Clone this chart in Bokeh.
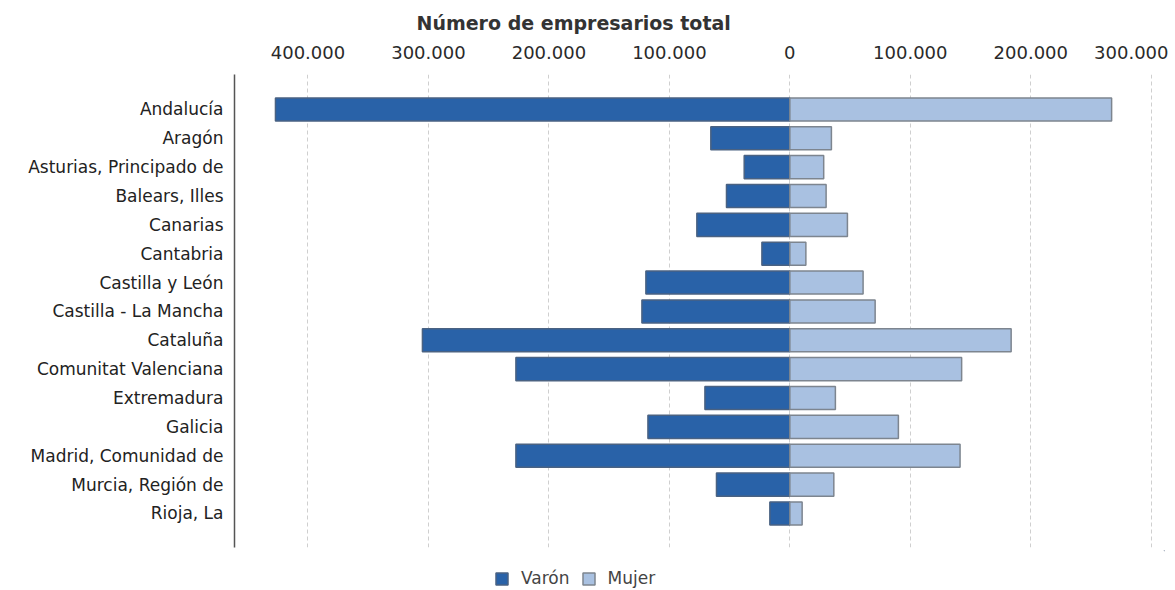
from bokeh.plotting import figure
from bokeh.layouts import column
from bokeh.models import (ColumnDataSource, Range1d, FixedTicker, CustomJSTickFormatter,
                          Legend, LegendItem)
from bokeh.embed import file_html
from bokeh.resources import INLINE

categories = ["Andalucía", "Aragón", "Asturias, Principado de", "Balears, Illes",
              "Canarias", "Cantabria", "Castilla y León", "Castilla - La Mancha",
              "Cataluña", "Comunitat Valenciana", "Extremadura", "Galicia",
              "Madrid, Comunidad de", "Murcia, Región de", "Rioja, La"]
varon = [427000, 65600, 37900, 52600, 77200, 23200, 119500, 122800,
         305000, 227400, 70500, 117800, 227400, 60900, 16600]
mujer = [267100, 34500, 28100, 30100, 47800, 13300, 60800, 70800,
         183700, 142600, 37800, 90100, 141300, 36500, 10200]
x_ticks = [-400000, -300000, -200000, -100000, 0, 100000, 200000, 300000]
series_names = ["Varón", "Mujer"]
title_text = "Número de empresarios total"

VARON_FILL, VARON_LINE = "#2962a8", "#4a6282"
MUJER_FILL, MUJER_LINE = "#a9c1e1", "#7d858f"

pos = list(range(len(categories)))
src = ColumnDataSource(dict(
    y=pos,
    cat=categories,
    v_left=[-v for v in varon],
    zero=[0] * len(categories),
    m_right=mujer,
))

p = figure(width=1168, height=550, output_backend="svg", toolbar_location=None,
           x_range=Range1d(-461000, 311000), y_range=Range1d(15.18, -1.21),
           x_axis_location="above", min_border_left=234, min_border_right=4,
           min_border_top=74, min_border_bottom=3)
p.outline_line_color = None
p.background_fill_color = "white"

p.title.text = title_text
p.title.text_font = "DejaVu Sans"
p.title.text_font_size = "19px"
p.title.text_font_style = "bold"
p.title.text_color = "#333333"
p.title.align = "left"
p.title.offset = 182
p.title.standoff = 17

p.hbar(y="y", left="v_left", right="zero", height=0.8, source=src,
       fill_color=VARON_FILL, line_color=VARON_LINE, line_width=1.5)
p.hbar(y="y", left="zero", right="m_right", height=0.8, source=src,
       fill_color=MUJER_FILL, line_color=MUJER_LINE, line_width=1.5)

xa = p.xaxis[0]
xa.ticker = FixedTicker(ticks=x_ticks)
xa.formatter = CustomJSTickFormatter(code="""
    var s = Math.abs(tick).toFixed(0);
    return s.replace(/\\B(?=(\\d{3})+(?!\\d))/g, '.');
""")
xa.axis_line_color = None
xa.major_tick_line_color = None
xa.minor_tick_line_color = None
xa.major_tick_out = 0
xa.major_tick_in = 0
xa.minor_tick_out = 0
xa.major_label_text_font = "DejaVu Sans"
xa.major_label_text_font_size = "18px"
xa.major_label_text_color = "#2a2a2a"
xa.major_label_standoff = 16

ya = p.yaxis[0]
ya.ticker = FixedTicker(ticks=pos)
ya.major_label_overrides = {i: c for i, c in zip(pos, categories)}
ya.axis_line_color = "#555555"
ya.axis_line_width = 1.5
ya.major_tick_line_color = None
ya.minor_tick_line_color = None
ya.major_tick_out = 0
ya.major_tick_in = 0
ya.minor_tick_out = 0
ya.major_label_text_font = "DejaVu Sans"
ya.major_label_text_font_size = "17px"
ya.major_label_text_color = "#222222"
ya.major_label_standoff = 11

p.xgrid.ticker = FixedTicker(ticks=x_ticks)
p.xgrid.grid_line_color = "#cfcfcf"
p.xgrid.grid_line_dash = "4 3"
p.xgrid.grid_line_width = 1
p.ygrid.grid_line_color = None

# legend strip below the chart (its swatch renderers sit outside the visible range)
lg = figure(width=1168, height=39, output_backend="svg", toolbar_location=None,
            x_axis_type=None, y_axis_type=None, x_range=Range1d(0, 1), y_range=Range1d(0, 1),
            min_border_left=0, min_border_right=0, min_border_top=0, min_border_bottom=0)
lg.outline_line_color = None
lg.xgrid.grid_line_color = None
lg.ygrid.grid_line_color = None
hidden = ColumnDataSource(dict(y=[50], left=[50], right=[51]))
lv = lg.hbar(y="y", left="left", right="right", height=1, source=hidden,
             fill_color=VARON_FILL, line_color=VARON_LINE, line_width=1.5)
lm = lg.hbar(y="y", left="left", right="right", height=1, source=hidden,
             fill_color=MUJER_FILL, line_color=MUJER_LINE, line_width=1.5)
legend = Legend(items=[LegendItem(label=series_names[0], renderers=[lv]),
                       LegendItem(label=series_names[1], renderers=[lm])],
                orientation="horizontal", location=(260, 1),
                label_text_font="DejaVu Sans", label_text_font_size="17px",
                label_text_color="#444444", glyph_width=15, glyph_height=15,
                label_standoff=12, spacing=11, padding=0, margin=0,
                border_line_color=None, background_fill_alpha=0)
lg.add_layout(legend, "center")

layout = column(p, lg, spacing=0)
open("out.html", "w").write(file_html(layout, INLINE))
